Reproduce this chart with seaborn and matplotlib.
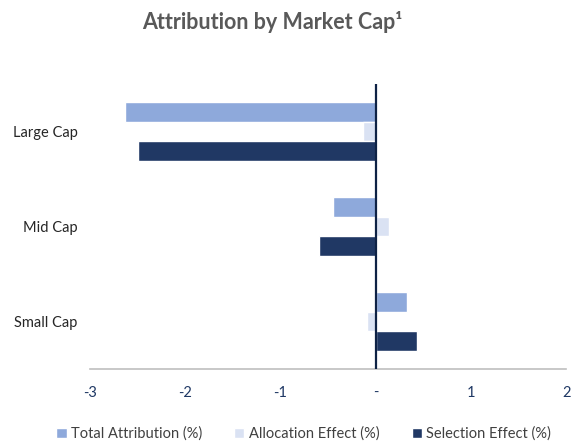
"""
Attribution by Market Cap - horizontal grouped bar chart.
Saves the figure to out.png
"""

import matplotlib
matplotlib.use("Agg")
import matplotlib.pyplot as plt
import pandas as pd
import seaborn as sns

# ---------- data ----------
caps = ["Large Cap", "Mid Cap", "Small Cap"]
total_attribution = [-2.63, -0.45, 0.33]
allocation_effect = [-0.13, 0.14, -0.09]
selection_effect = [-2.50, -0.59, 0.43]

series_names = ["Total Attribution (%)", "Allocation Effect (%)", "Selection Effect (%)"]
series_colors = ["#8EA9DB", "#DAE2F3", "#203864"]

x_ticks = [-3, -2, -1, 0, 1, 2]
x_tick_labels = ["-3", "-2", "-1", "-", "1", "2"]


def main():
    df = pd.DataFrame({
        "cap": caps * 3,
        "value": total_attribution + allocation_effect + selection_effect,
        "series": [s for s in series_names for _ in caps],
    })

    sns.set_style("white")
    plt.rcParams["font.family"] = ["Lato", "DejaVu Sans"]

    fig = plt.figure(figsize=(5.73, 4.41), dpi=100)
    ax = fig.add_axes([0.157, 0.163, 0.831, 0.647])

    sns.barplot(
        data=df, y="cap", x="value", hue="series", orient="h",
        order=caps, hue_order=series_names,
        palette=dict(zip(series_names, series_colors)),
        width=0.62, gap=0, saturation=1, ax=ax, legend=True,
    )

    # zero line
    ax.axvline(0, color="#0E2245", lw=1.6, zorder=5)

    ax.set_xlim(-3, 2)
    ax.set_xticks(x_ticks)
    ax.set_xticklabels(x_tick_labels, color="#1F3864", fontsize=10.5)
    ax.tick_params(axis="x", length=0, pad=12)
    ax.tick_params(axis="y", length=0, pad=9, labelsize=10.5, labelcolor="#262626")
    ax.set_xlabel("")
    ax.set_ylabel("")

    for side in ["top", "right", "left"]:
        ax.spines[side].set_visible(False)
    ax.spines["bottom"].set_color("#BFBFBF")
    ax.spines["bottom"].set_linewidth(1.2)

    # legend at the bottom of the figure
    handles, labels = ax.get_legend_handles_labels()
    ax.get_legend().remove()
    fig.legend(
        handles, labels, loc="lower center", bbox_to_anchor=(0.53, -0.03),
        ncol=3, frameon=False, fontsize=10.5, handlelength=0.7, handleheight=0.7,
        handletextpad=0.3, columnspacing=2.2, labelcolor="#404040",
    )

    fig.suptitle("Attribution by Market Cap\u00b9", x=0.475, y=0.975,
                 fontsize=15.5, fontweight="bold", color="#595959")

    fig.savefig("out.png", dpi=100)
    plt.close(fig)


if __name__ == "__main__":
    main()
